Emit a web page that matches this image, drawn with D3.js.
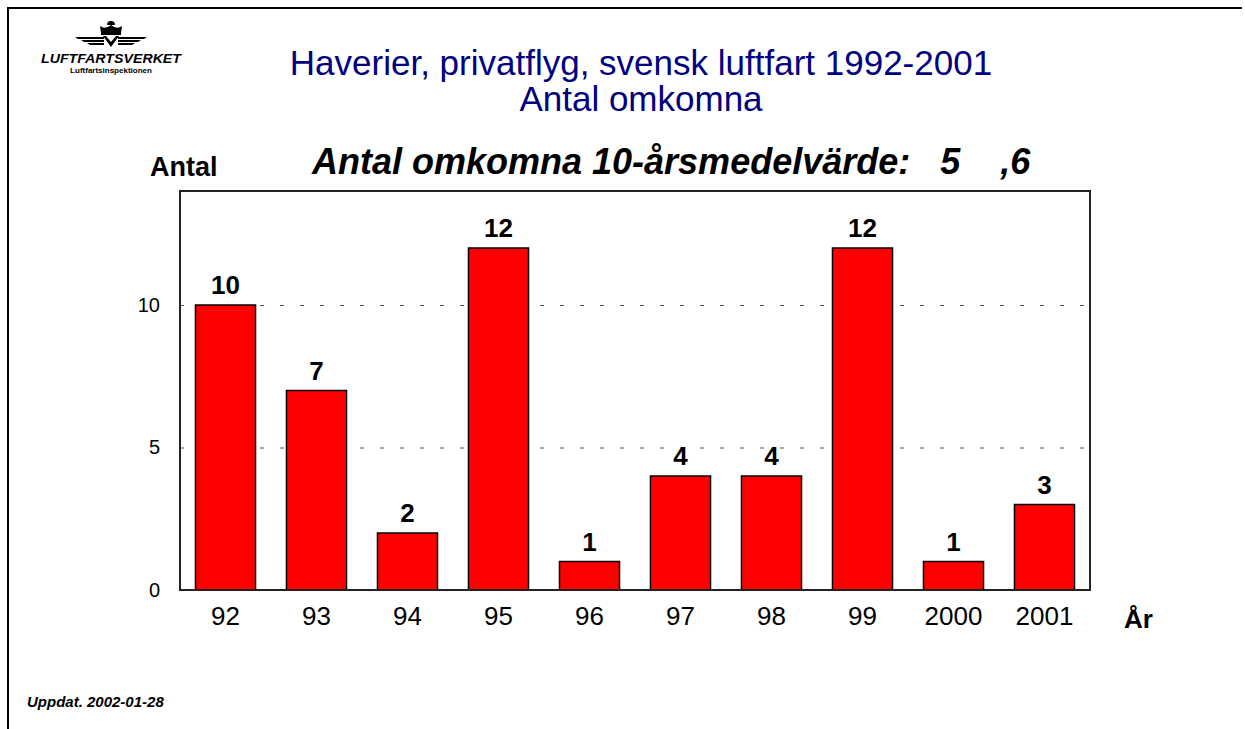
<!DOCTYPE html>
<html>
<head>
<meta charset="utf-8">
<script src="https://cdn.jsdelivr.net/npm/d3@7"></script>
<style>
  body { margin: 0; background: #fff; }
  svg text { font-family: Arial, "Liberation Sans", sans-serif; }
</style>
</head>
<body>
<div id="chart"></div>
<script>
var years = ["92", "93", "94", "95", "96", "97", "98", "99", "2000", "2001"],
    deaths = [10, 7, 2, 12, 1, 4, 4, 12, 1, 3],
    yTicks = [0, 5, 10];

var W = 1245, H = 729;
var margin = {top: 191, right: 155, bottom: 139, left: 180},
    width = W - margin.left - margin.right,
    height = H - margin.top - margin.bottom;

var svg = d3.select("#chart").append("svg")
    .attr("width", W)
    .attr("height", H);

// page frame
svg.append("line").attr("x1", 8).attr("x2", 8).attr("y1", 7).attr("y2", H)
    .attr("stroke", "#000").attr("stroke-width", 2);
svg.append("line").attr("x1", 7).attr("x2", 1242).attr("y1", 8).attr("y2", 8)
    .attr("stroke", "#000").attr("stroke-width", 2);

// logo (crown + wings)
var logo = svg.append("g").attr("transform", "translate(111,0)");
logo.append("path")
    .attr("d", "M-10,33 L-11,26 Q-6,30 0,25 Q6,30 11,26 L10,33 Z M-4,25 a4,4 0 1,1 8,0 Z")
    .attr("fill", "#000");
logo.append("rect").attr("x", -10).attr("y", 33).attr("width", 20).attr("height", 2).attr("fill", "#000");
[-1, 1].forEach(function(s) {
  for (var i = 0; i < 3; i++) {
    logo.append("path")
      .attr("d", "M" + (s * 7) + "," + (37 + i * 3) + " L" + (s * (36 - i * 6)) + "," + (37 + i * 3) +
                 " L" + (s * (33 - i * 6)) + "," + (39 + i * 3) + " L" + (s * 7) + "," + (39 + i * 3) + " Z")
      .attr("fill", "#000");
  }
});
logo.append("path").attr("d", "M-8,36 L0,47 L8,36 L5,36 L0,42 L-5,36 Z").attr("fill", "#000");
logo.append("text").attr("x", 0).attr("y", 63).attr("text-anchor", "middle")
    .style("font-size", "12px").style("font-weight", "900").style("font-style", "italic")
    .attr("textLength", 140).attr("lengthAdjust", "spacingAndGlyphs")
    .text("LUFTFARTSVERKET");
logo.append("text").attr("x", 0).attr("y", 73).attr("text-anchor", "middle")
    .style("font-size", "8px").style("font-weight", "bold")
    .text("Luftfartsinspektionen");

// titles
svg.append("text").attr("x", 641).attr("y", 75).attr("text-anchor", "middle")
    .attr("fill", "#000080").style("font-size", "35px")
    .text("Haverier, privatflyg, svensk luftfart 1992-2001");
svg.append("text").attr("x", 641).attr("y", 111).attr("text-anchor", "middle")
    .attr("fill", "#000080").style("font-size", "35px")
    .text("Antal omkomna");
svg.append("text").attr("x", 312).attr("y", 174)
    .style("font-size", "36px").style("font-weight", "bold").style("font-style", "italic")
    .attr("xml:space", "preserve")
    .text("Antal omkomna 10-årsmedelvärde:   5    ,6");
svg.append("text").attr("x", 150).attr("y", 176)
    .style("font-size", "27px").style("font-weight", "bold")
    .text("Antal");
svg.append("text").attr("x", 1124).attr("y", 628)
    .style("font-size", "26px").style("font-weight", "bold")
    .text("År");
svg.append("text").attr("x", 27).attr("y", 707)
    .style("font-size", "15px").style("font-weight", "bold").style("font-style", "italic")
    .text("Uppdat. 2002-01-28");

var g = svg.append("g")
    .attr("transform", "translate(" + margin.left + "," + margin.top + ")");

var x = d3.scaleBand()
    .domain(years)
    .range([0, width])
    .paddingInner(0.34)
    .paddingOuter(0.17);

var y = d3.scaleLinear()
    .domain([0, 14])
    .range([height, 0]);

// gridlines
g.selectAll(".grid")
    .data([5, 10])
  .enter().append("line")
    .attr("class", "grid")
    .attr("x1", 0).attr("x2", width)
    .attr("y1", function(d) { return y(d) + 0.5; })
    .attr("y2", function(d) { return y(d) + 0.5; })
    .attr("stroke", "#555")
    .attr("stroke-dasharray", "4,16");

// y axis labels
g.append("g")
    .attr("class", "axis axis-y")
    .call(d3.axisLeft(y).tickValues(yTicks).tickSize(0).tickPadding(20))
    .call(function(a) { a.select(".domain").remove(); })
    .selectAll("text")
      .style("font-size", "20px")
      .style("font-family", "Arial, 'Liberation Sans', sans-serif")
      .attr("fill", "#000");

// x axis labels
g.append("g")
    .attr("class", "axis axis-x")
    .attr("transform", "translate(0," + height + ")")
    .call(d3.axisBottom(x).tickSize(0).tickPadding(17))
    .call(function(a) { a.select(".domain").remove(); })
    .selectAll("text")
      .style("font-size", "26px")
      .style("font-family", "Arial, 'Liberation Sans', sans-serif")
      .attr("fill", "#000");

// bars
var bar = g.selectAll(".bar")
    .data(deaths)
  .enter().append("g")
    .attr("class", "bar");

bar.append("rect")
    .attr("x", function(d, i) { return x(years[i]); })
    .attr("y", function(d) { return y(d); })
    .attr("width", x.bandwidth())
    .attr("height", function(d) { return height - y(d); })
    .attr("fill", "#ff0000")
    .attr("stroke", "#000")
    .attr("stroke-width", 1.5);

bar.append("text")
    .attr("x", function(d, i) { return x(years[i]) + x.bandwidth() / 2; })
    .attr("y", function(d) { return y(d) - 11; })
    .attr("text-anchor", "middle")
    .style("font-size", "26px")
    .style("font-weight", "bold")
    .text(function(d) { return d; });

// plot frame
g.append("rect")
    .attr("x", 0).attr("y", 0)
    .attr("width", width).attr("height", height)
    .attr("fill", "none")
    .attr("stroke", "#222")
    .attr("stroke-width", 2);
</script>
</body>
</html>
